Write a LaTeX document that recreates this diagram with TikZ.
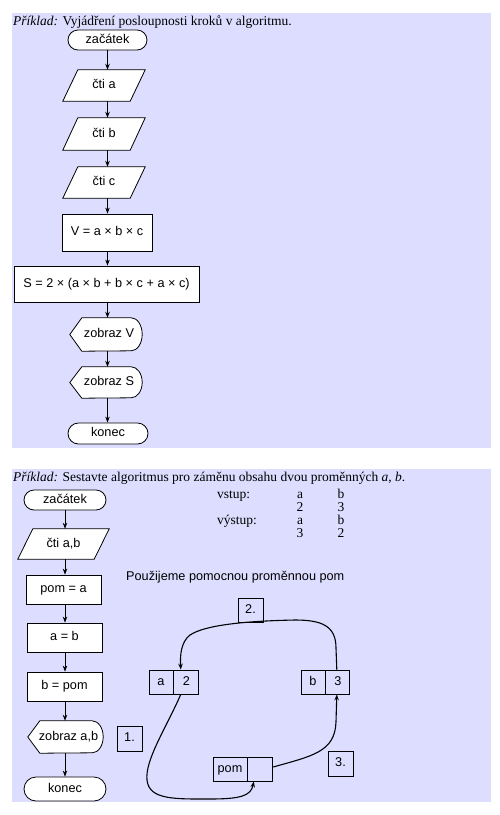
\documentclass[tikz,border=0pt]{standalone}
\usepackage{fontspec}
\setmainfont{Liberation Serif}
\setsansfont{Liberation Sans}
\usetikzlibrary{arrows.meta,calc}
\definecolor{panelc}{RGB}{221,221,255}
\pgfdeclarelayer{bglayer}
\pgfdeclarelayer{shplayer}
\pgfsetlayers{bglayer,shplayer,main}
\newcommand{\drawpara}[2]{%
  \begin{pgfonlayer}{shplayer}
  \draw[shapeline] ([xshift=#2pt]#1.north west) -- (#1.north east) -- ([xshift=-#2pt]#1.south east) -- (#1.south west) -- cycle;
  \end{pgfonlayer}}
\newcommand{\drawdisp}[2]{%
  \begin{pgfonlayer}{shplayer}
  \draw[shapeline] ([xshift=-6pt]#1.west) -- ([xshift=6pt]#1.north west) -- ([xshift=-11pt]#1.north east)
    arc[start angle=90,end angle=-90,x radius=11pt,y radius=#2pt] -- ([xshift=6pt]#1.south west) -- cycle;
  \end{pgfonlayer}}
\begin{document}
\begin{tikzpicture}[x=1pt,y=-1pt,
  shapeline/.style={draw=black,fill=white,line width=0.8pt},
  flowtext/.style={font=\sffamily\fontsize{12.7}{15}\selectfont,inner sep=0pt,text height=9pt,text depth=2.5pt},
  termbox/.style={flowtext,shapeline,rounded corners=10pt},
  procbox/.style={flowtext,shapeline},
  iobox/.style={flowtext},
  cellbox/.style={font=\sffamily\fontsize{12.7}{15}\selectfont,draw=black,line width=0.8pt,inner sep=0pt,minimum height=24pt,text height=9pt,text depth=2.5pt},
  flowarrow/.style={line width=0.8pt,-{Stealth[length=6pt,width=4.5pt]}},
  linkcurve/.style={line width=1.1pt,-{Stealth[length=6pt,width=4.5pt]}},
  sertext/.style={font=\fontsize{13.5}{16}\selectfont,inner sep=0pt}]
\useasboundingbox (0,0) rectangle (500,815);
\begin{pgfonlayer}{bglayer}
  \fill[white] (0,0) rectangle (500,815);
  \fill[panelc] (12,13) rectangle (491,447.5);
  \fill[panelc] (12,469) rectangle (491,802);
\end{pgfonlayer}

% ---------- panel 1 ----------
\node[sertext,anchor=base west] (t1) at (13,25.5) {\textit{Příklad:} Vyjádření posloupnosti kroků v algoritmu.};
\node[termbox,minimum width=79pt,minimum height=20pt] (s1) at (107.5,40) {začátek};
\node[iobox,minimum width=82pt,minimum height=31pt] (ra) at (104,85.5) {čti a};
\node[iobox,minimum width=82pt,minimum height=32pt] (rb) at (104,134) {čti b};
\node[iobox,minimum width=82pt,minimum height=31pt] (rc) at (104,182.5) {čti c};
\node[procbox,minimum width=90pt,minimum height=37pt] (pv) at (107,232.5) {V = a × b × c};
\node[procbox,minimum width=185pt,minimum height=36pt] (ps) at (106.5,284) {S = 2 × (a × b + b × c + a × c)};
\node[iobox,minimum width=66pt,minimum height=33pt] (zv) at (109,334.5) {zobraz V};
\node[iobox,minimum width=66pt,minimum height=31pt] (zs) at (109,382.5) {zobraz S};
\node[termbox,minimum width=80pt,minimum height=21pt,rounded corners=10.5pt] (e1) at (108,433.5) {konec};
\drawpara{ra}{15}
\drawpara{rb}{15}
\drawpara{rc}{15}
\drawdisp{zv}{16.5}
\drawdisp{zs}{15.5}
\draw[flowarrow] (s1.south) -- (s1.south |- ra.north);
\draw[flowarrow] (ra.south -| s1.south) -- (s1.south |- rb.north);
\draw[flowarrow] (rb.south -| s1.south) -- (s1.south |- rc.north);
\draw[flowarrow] (rc.south -| s1.south) -- (s1.south |- pv.north);
\draw[flowarrow] (pv.south -| s1.south) -- (s1.south |- ps.north);
\draw[flowarrow] (ps.south -| s1.south) -- (s1.south |- zv.north);
\draw[flowarrow] (zv.south -| s1.south) -- (s1.south |- zs.north);
\draw[flowarrow] (zs.south -| s1.south) -- (s1.south |- e1.north);

% ---------- panel 2 ----------
\node[sertext,anchor=base west] (t2) at (13,481) {\textit{Příklad:} Sestavte algoritmus pro záměnu obsahu dvou proměnných \textit{a}, \textit{b}.};
\node[termbox,minimum width=82pt,minimum height=20pt] (s2) at (65,500) {začátek};
\node[iobox,minimum width=91pt,minimum height=30pt] (rab) at (63.5,544) {čti a,b};
\node[procbox,minimum width=75pt,minimum height=29pt] (pa) at (63.5,589.5) {pom = a};
\node[procbox,minimum width=75pt,minimum height=29pt] (ab) at (64.5,637.5) {a = b};
\node[procbox,minimum width=75pt,minimum height=29pt] (bp) at (64.5,686.5) {b = pom};
\node[iobox,minimum width=69pt,minimum height=32pt] (zab) at (68.5,737) {zobraz a,b};
\node[termbox,minimum width=82pt,minimum height=24pt,rounded corners=12pt] (e2) at (65,789) {konec};
\drawpara{rab}{15}
\drawdisp{zab}{16}
\draw[flowarrow] (s2.south) -- (s2.south |- rab.north);
\draw[flowarrow] (rab.south -| s2.south) -- (s2.south |- pa.north);
\draw[flowarrow] (pa.south -| s2.south) -- (s2.south |- ab.north);
\draw[flowarrow] (ab.south -| s2.south) -- (s2.south |- bp.north);
\draw[flowarrow] (bp.south -| s2.south) -- (s2.south |- zab.north);
\draw[flowarrow] (zab.south -| s2.south) -- (s2.south |- e2.north);

% table
\node[sertext,anchor=base west] (vin) at (217,498.5) {vstup:};
\node[sertext,anchor=base] (va) at (300,498.5) {a};
\node[sertext,anchor=base] (vb) at (341,498.5) {b};
\node[sertext,anchor=base] (v2) at (300,511.5) {2};
\node[sertext,anchor=base] (v3) at (341,511.5) {3};
\node[sertext,anchor=base west] (vout) at (217,524.5) {výstup:};
\node[sertext,anchor=base] (oa) at (300,524.5) {a};
\node[sertext,anchor=base] (ob) at (341,524.5) {b};
\node[sertext,anchor=base] (o3) at (300,537) {3};
\node[sertext,anchor=base] (o2) at (341,537) {2};

\node[flowtext,anchor=base west] (note) at (126,580.5) {Použijeme pomocnou proměnnou pom};

% memory cells
\node[cellbox,minimum width=24pt] (ca) at (161,682) {a};
\node[cellbox,minimum width=25pt,anchor=west] (c2) at (ca.east) {2};
\node[cellbox,minimum width=24pt] (cb) at (313,682) {b};
\node[cellbox,minimum width=24pt,anchor=west] (c3) at (cb.east) {3};
\node[cellbox,minimum width=34pt] (cp) at (230,769) {pom};
\node[cellbox,minimum width=25pt,anchor=west] (ce) at (cp.east) {};
\node[cellbox,minimum width=25pt,minimum height=25pt] (l1) at (129.5,738.5) {1.};
\node[cellbox,minimum width=25pt,minimum height=24pt] (l2) at (250.5,610) {2.};
\node[cellbox,minimum width=25pt,minimum height=25pt] (l3) at (340.5,763.5) {3.};

\draw[linkcurve] ([xshift=-5.5pt]c2.south) .. controls (165,730) and (145,760) .. (147,780)
  .. controls (149,800) and (175,799) .. (210,799) .. controls (240,799) and (251,796) .. ([xshift=-6.5pt]ce.south);
\draw[linkcurve] ([xshift=-1pt]c3.north) -- (336,648) .. controls (336,626) and (322,620) .. (295,620)
  .. controls (245,621) and (205,625) .. (190,635) .. controls (181,642) and (180,655) .. ([xshift=-5.5pt]c2.north);
\draw[linkcurve] ([yshift=2pt]ce.east) .. controls (312,756) and (335,752) .. (336,722) -- ([xshift=-1pt]c3.south);
\end{tikzpicture}
\end{document}
